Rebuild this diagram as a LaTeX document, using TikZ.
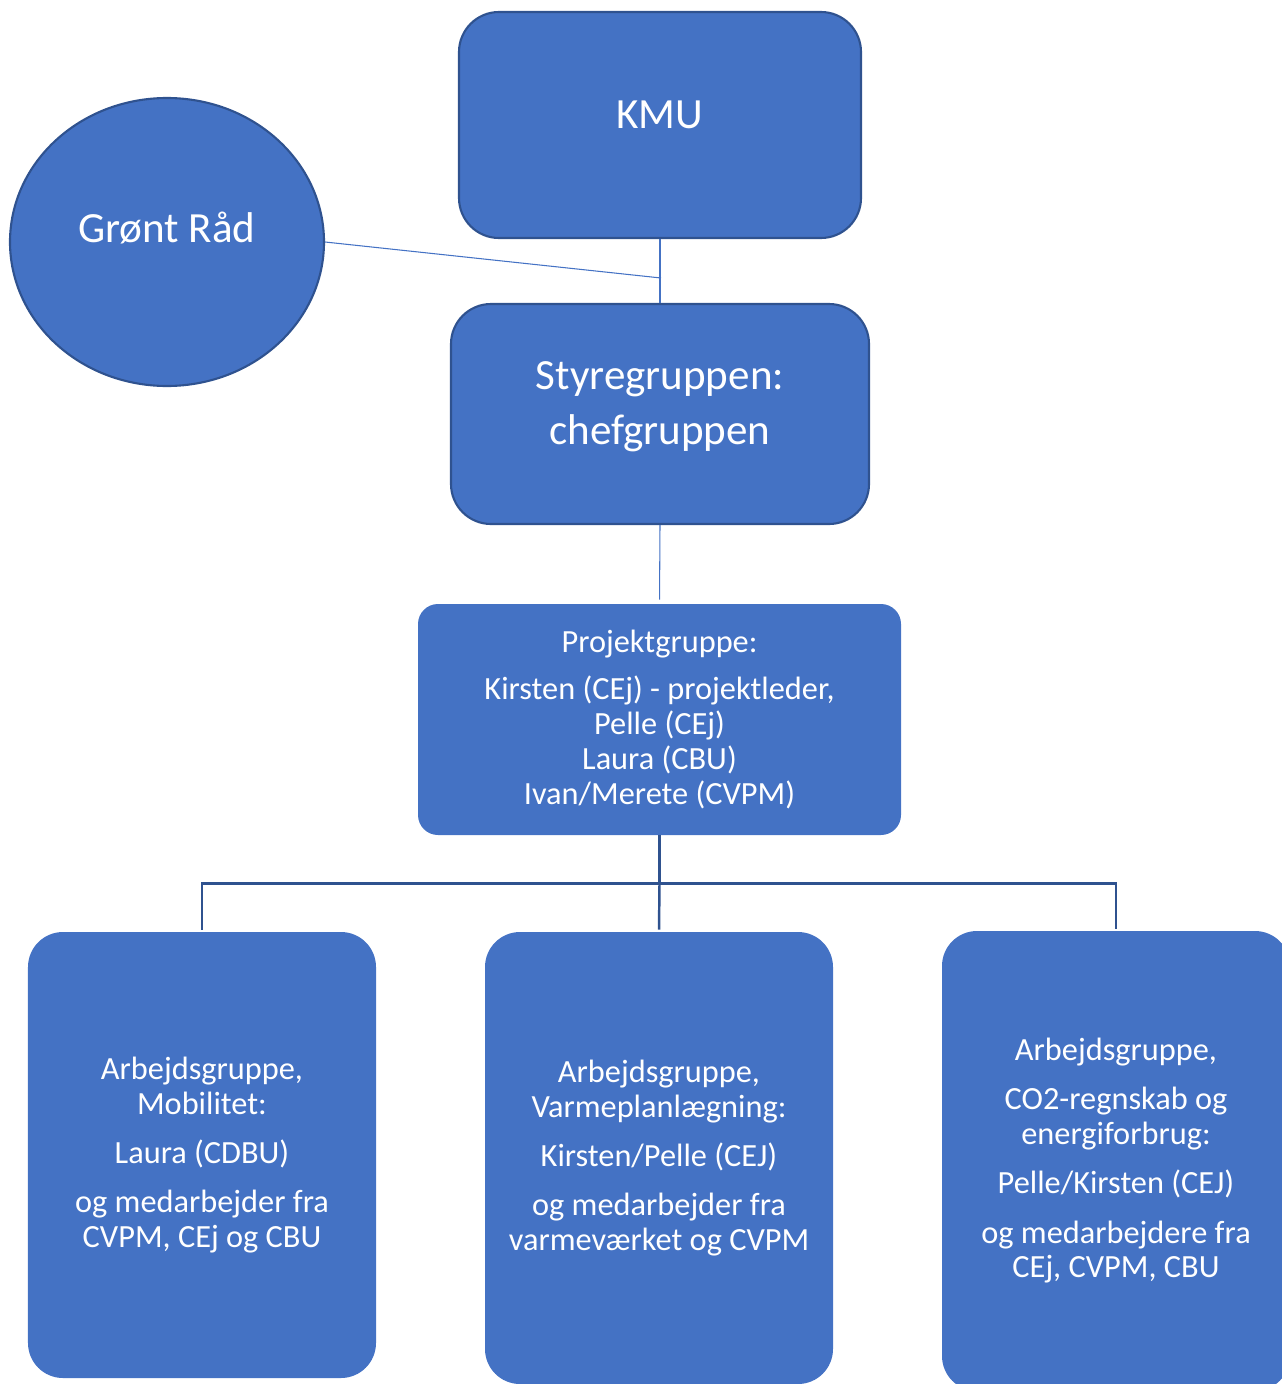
\documentclass[tikz,border=0pt]{standalone}
\usepackage{fontspec}
\setmainfont{Carlito}
\usetikzlibrary{shapes.geometric}
\definecolor{boxblue}{HTML}{4472C4}
\definecolor{edgeblue}{HTML}{2F528F}

\begin{document}
\begin{tikzpicture}[
    big/.style={draw=edgeblue,line width=1.2pt,fill=boxblue,text=white,
      align=center,font=\fontsize{24.5}{31.5}\selectfont},
    group/.style={fill=boxblue,text=white,align=center,rounded corners=0.7cm,
      minimum width=6.96cm,font=\fontsize{18.4}{19.9}\selectfont},
    thin/.style={boxblue,line width=0.6pt},
    tree/.style={edgeblue,line width=1.4pt}]
  \useasboundingbox (0,0) rectangle (25.64,-27.68);
  \node[big,rounded corners=0.8cm,minimum width=8.04cm,minimum height=4.52cm,text depth=0.4cm] (kmu) at (13.2,-2.5) {KMU};
  \node[big,ellipse,minimum width=6.28cm,minimum height=5.76cm,text depth=0.58cm] (raad) at (3.34,-4.84) {Grønt Råd};
  \node[big,rounded corners=0.8cm,minimum width=8.36cm,minimum height=4.4cm,text depth=0.43cm] (styr) at (13.2,-8.28) {Styregruppen:\\chefgruppen};
  \node[group,rounded corners=0.4cm,minimum width=9.66cm,minimum height=4.62cm] (proj) at (13.19,-14.39)
    {Projektgruppe:\\[7pt]Kirsten (CEj) - projektleder,\\Pelle (CEj)\\Laura (CBU)\\Ivan/Merete (CVPM)};
  \node[group,minimum height=8.92cm] (mob) at (4.04,-23.1)
    {Arbejdsgruppe,\\Mobilitet:\\[8pt]Laura (CDBU)\\[8pt]og medarbejder fra\\CVPM, CEj og CBU};
  \node[group,minimum height=9.04cm] (varme) at (13.18,-23.16)
    {Arbejdsgruppe,\\Varmeplanlægning:\\[8pt]Kirsten/Pelle (CEJ)\\[8pt]og medarbejder fra\\varmeværket og CVPM};
  \node[group,minimum height=9.2cm] (co2) at (22.32,-23.22)
    {Arbejdsgruppe,\\[8pt]CO2-regnskab og\\energiforbrug:\\[8pt]Pelle/Kirsten (CEJ)\\[8pt]og medarbejdere fra\\CEj, CVPM, CBU};

  % forbindelser
  \draw[thin] (kmu.south) -- (styr.north);
  \coordinate (knot) at (13.22,-5.56);
  \draw[thin] (raad.east) -- (knot);
  \draw[thin,shorten >=0.08cm] (styr.south) -- (proj.north);
  \draw[tree] (proj.south) -- ++(0,-0.96) coordinate (bus);
  \draw[tree,shorten >=0.04cm] (bus) -| (mob.north);
  \draw[tree,shorten >=0.04cm] (bus) -- (varme.north);
  \draw[tree,shorten >=0.04cm] (bus) -| (co2.north);
\end{tikzpicture}
\end{document}
